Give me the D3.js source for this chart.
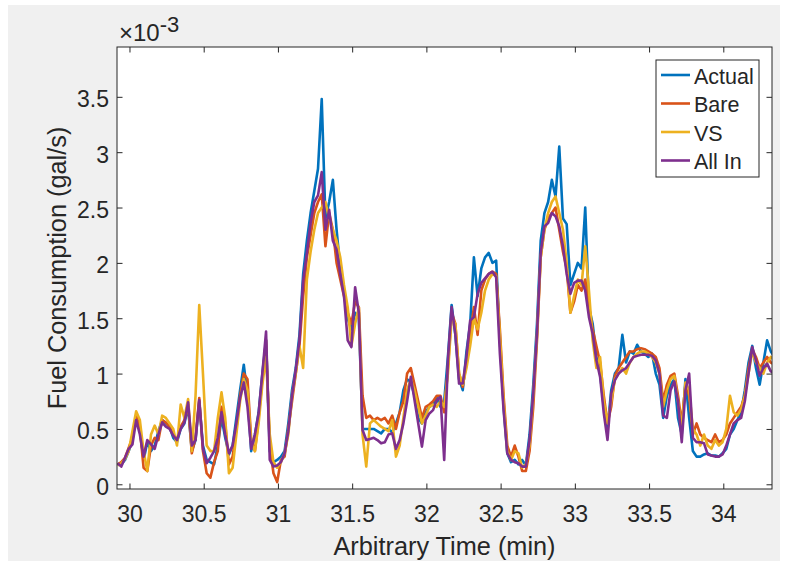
<!DOCTYPE html>
<html>
<head>
<meta charset="utf-8">
<script src="https://cdn.jsdelivr.net/npm/d3@7/dist/d3.min.js"></script>
<style>
body { margin: 0; background: #ffffff; }
text { font-family: "Liberation Sans", Arial, Helvetica, sans-serif; fill: #262626; }
</style>
</head>
<body>
<svg id="chart" width="786" height="561"></svg>
<script>
// samples every 0.025 min starting at 29.92; values are gal/s x 1e-3
var startTime = 29.92;
var sampleStep = 0.025;
var actual = [
	.18,.18,.22,.30,.40,.62,.50,.22,.38,.30,
	.35,.48,.58,.55,.52,.42,.38,.50,.55,.70,
	.30,.40,.75,.35,.22,.20,.18,.35,.60,.42,
	.27,.35,.60,.85,1.08,.80,.30,.45,.65,1.00,
	1.30,.30,.20,.22,.25,.30,.55,.85,1.05,1.35,
	1.90,2.20,2.45,2.65,2.85,3.48,2.40,2.55,2.75,2.30,
	1.95,1.75,1.50,1.40,1.55,1.50,.50,.50,.50,.50,
	.48,.46,.50,.50,.47,.55,.65,.85,.95,.92,
	.80,.60,.55,.65,.70,.72,.78,.70,.75,1.15,
	1.62,1.35,.95,.85,1.20,1.45,2.05,1.70,1.95,2.05,
	2.09,2.00,2.02,1.30,.70,.28,.20,.22,.18,.22,
	.17,.45,.90,1.45,2.20,2.45,2.55,2.75,2.60,3.05,
	2.40,2.35,1.80,1.90,2.00,1.95,2.50,1.60,1.45,1.15,
	1.00,.70,.50,.85,1.00,1.05,1.35,1.10,1.20,1.18,
	1.26,1.20,1.18,1.15,1.18,1.00,.90,.60,.80,.90,
	.95,.60,.45,.95,.60,.30,.25,.25,.27,.28,
	.26,.26,.25,.28,.32,.45,.50,.58,.65,.85,
	1.10,1.25,1.05,.90,1.10,1.30,1.20,1.15
];
var bare = [
	.18,.20,.24,.33,.42,.62,.50,.15,.12,.35,
	.42,.40,.58,.56,.52,.45,.40,.52,.58,.72,
	.28,.42,.78,.30,.10,.06,.20,.30,.70,.55,
	.18,.25,.50,.80,1.00,.95,.40,.30,.60,.95,
	1.30,.35,.10,.02,.22,.25,.50,.75,1.00,1.25,
	1.70,2.05,2.25,2.45,2.55,2.62,2.15,2.45,2.30,2.00,
	1.85,1.70,1.55,1.45,1.65,1.60,.80,.60,.62,.58,
	.60,.58,.60,.55,.62,.50,.65,.75,1.00,1.05,
	.90,.75,.60,.70,.72,.75,.80,.80,.65,1.05,
	1.55,1.45,1.00,.88,1.10,1.35,1.60,1.35,1.75,1.85,
	1.90,1.92,1.90,1.40,.80,.35,.25,.35,.25,.12,
	.12,.30,.70,1.30,2.05,2.30,2.40,2.45,2.50,2.30,
	2.10,1.95,1.55,1.65,1.80,1.75,1.85,1.60,1.40,1.25,
	1.10,.80,.55,.70,.98,1.05,1.10,1.15,1.20,1.20,
	1.22,1.23,1.22,1.20,1.18,1.15,1.05,.75,.90,.98,
	1.00,.80,.55,.90,.80,.45,.55,.45,.42,.40,
	.38,.45,.38,.40,.45,.55,.60,.65,.70,.80,
	1.05,1.22,1.15,1.05,1.10,1.15,1.10,1.08
];
var vs = [
	.17,.19,.23,.30,.48,.66,.58,.30,.12,.45,
	.53,.45,.62,.60,.55,.50,.35,.72,.60,.77,
	.30,.80,1.62,1.00,.35,.30,.30,.60,.83,.60,
	.10,.15,.45,.75,.95,.85,.38,.30,.55,.90,
	1.15,.45,.20,.15,.20,.28,.45,.80,1.00,1.25,
	1.05,1.85,2.10,2.30,2.45,2.50,2.55,2.40,2.30,2.20,
	2.05,1.80,1.60,1.25,1.45,1.60,.45,.16,.55,.58,
	.55,.52,.50,.48,.58,.25,.35,.60,.85,.95,
	.85,.70,.55,.62,.70,.72,.70,.75,.70,1.00,
	1.50,1.45,1.00,.90,1.05,1.25,1.50,1.40,1.55,1.75,
	1.85,1.90,1.88,1.35,.75,.30,.22,.30,.28,.15,
	.18,.35,.80,1.35,2.05,2.30,2.45,2.55,2.60,2.45,
	2.30,2.00,1.55,1.70,1.85,1.80,2.15,1.75,1.30,1.05,
	1.15,.75,.55,.75,.95,1.00,1.05,1.00,1.10,1.15,
	1.18,1.20,1.20,1.18,1.15,1.10,1.00,.70,.85,.95,
	.98,.75,.50,.92,.85,.50,.45,.35,.45,.35,
	.32,.40,.35,.38,.50,.80,.65,.62,.68,.80,
	1.00,1.20,1.10,1.05,1.00,1.10,1.15,1.12
];
var allIn = [
	.19,.16,.24,.32,.36,.58,.45,.25,.40,.36,
	.32,.45,.56,.52,.50,.44,.40,.50,.56,.74,
	.35,.40,.76,.32,.19,.24,.30,.42,.65,.45,
	.28,.35,.55,.78,.92,.70,.32,.45,.64,1.00,
	1.38,.22,.16,.17,.20,.28,.48,.80,1.03,1.30,
	1.84,2.09,2.36,2.55,2.61,2.82,2.30,2.48,2.20,2.12,
	1.90,1.70,1.30,1.24,1.78,1.55,.49,.40,.41,.42,
	.40,.37,.38,.45,.46,.32,.40,.55,.75,.97,
	.76,.55,.34,.58,.64,.67,.76,.79,.22,1.12,
	1.60,1.36,.91,.91,1.15,1.48,1.51,1.72,1.82,1.86,
	1.90,1.92,1.87,1.18,.67,.28,.22,.20,.19,.16,
	.16,.40,.82,1.36,2.09,2.33,2.36,2.45,2.42,2.33,
	2.15,1.90,1.72,1.82,1.84,1.84,1.75,1.51,1.36,1.12,
	.97,.64,.40,.82,.94,1.00,1.03,1.05,1.10,1.15,
	1.16,1.17,1.17,1.17,1.16,1.12,1.00,.62,.60,.85,
	.93,.75,.38,.85,1.00,.42,.38,.38,.37,.27,
	.26,.25,.25,.27,.35,.45,.55,.58,.60,.75,
	1.00,1.24,1.12,.98,1.05,1.09,1.02,1.00
];
var seriesNames = ["Actual", "Bare", "VS", "All In"];
var seriesColors = ["#0072bd", "#d95319", "#edb120", "#7e2f8e"];
var xTicks = [30, 30.5, 31, 31.5, 32, 32.5, 33, 33.5, 34];
var yTicks = [0, 0.5, 1, 1.5, 2, 2.5, 3, 3.5];

var svg = d3.select("#chart");
var plotLeft = 117, plotRight = 772, plotTop = 47, plotBottom = 489;
var axisColor = "#262626";

svg.append("rect").attr("x", 8).attr("y", 5).attr("width", 772).attr("height", 556).attr("fill", "#f0f0f0");
svg.append("rect").attr("x", plotLeft).attr("y", plotTop).attr("width", plotRight - plotLeft).attr("height", plotBottom - plotTop).attr("fill", "#ffffff");

var x = d3.scaleLinear().domain([29.916, 34.328]).range([plotLeft, plotRight]);
var y = d3.scaleLinear().domain([-0.0425, 3.95]).range([plotBottom, plotTop]);

var series = [actual, bare, vs, allIn].map(function (vals, k) {
	return {
		name: seriesNames[k],
		color: seriesColors[k],
		points: vals.map(function (v, i) { return [startTime + i * sampleStep, v]; })
	};
});

svg.append("clipPath").attr("id", "plotClip").append("rect").attr("x", plotLeft).attr("y", plotTop).attr("width", plotRight - plotLeft).attr("height", plotBottom - plotTop);

var line = d3.line().x(function (d) { return x(d[0]); }).y(function (d) { return y(d[1]); });
svg.append("g").attr("clip-path", "url(#plotClip)").selectAll("path").data(series).enter().append("path")
	.attr("d", function (d) { return line(d.points); })
	.attr("fill", "none").attr("stroke", function (d) { return d.color; }).attr("stroke-width", 2.6).attr("stroke-linejoin", "round");

// axes with inward ticks, MATLAB style
var tickLen = 5.5;
var gBottom = svg.append("g").attr("transform", "translate(0," + plotBottom + ")").call(d3.axisBottom(x).tickValues(xTicks).tickSizeInner(-tickLen).tickSizeOuter(0).tickPadding(16.5).tickFormat(d3.format("")));
var gTop = svg.append("g").attr("transform", "translate(0," + plotTop + ")").call(d3.axisTop(x).tickValues(xTicks).tickSizeInner(-tickLen).tickSizeOuter(0).tickFormat(""));
var gLeft = svg.append("g").attr("transform", "translate(" + plotLeft + ",0)").call(d3.axisLeft(y).tickValues(yTicks).tickSizeInner(-tickLen).tickSizeOuter(0).tickPadding(8).tickFormat(d3.format("")));
var gRight = svg.append("g").attr("transform", "translate(" + plotRight + ",0)").call(d3.axisRight(y).tickValues(yTicks).tickSizeInner(-tickLen).tickSizeOuter(0).tickFormat(""));
[gBottom, gTop, gLeft, gRight].forEach(function (g) {
	g.select(".domain").remove();
	g.selectAll(".tick line").attr("stroke", axisColor).attr("stroke-width", 1);
	g.selectAll(".tick text").attr("fill", axisColor).attr("font-size", 23).attr("font-family", null);
});
gBottom.selectAll(".tick text").attr("dy", "0.71em");
gLeft.selectAll(".tick text").attr("dy", "0.43em");

svg.append("rect").attr("x", plotLeft).attr("y", plotTop).attr("width", plotRight - plotLeft).attr("height", plotBottom - plotTop)
	.attr("fill", "none").attr("stroke", axisColor).attr("stroke-width", 1);

// exponent label
var expLabel = svg.append("text").attr("x", 119).attr("y", 40.5).attr("font-size", 24);
expLabel.append("tspan").text("\u00d710");
expLabel.append("tspan").attr("dy", -9).attr("font-size", 22).text("-3");

svg.append("text").attr("x", (plotLeft + plotRight) / 2).attr("y", 555).attr("text-anchor", "middle").attr("font-size", 25.3).text("Arbitrary Time (min)");
svg.append("text").attr("transform", "translate(66," + (plotTop + plotBottom) / 2 + ") rotate(-90)").attr("text-anchor", "middle").attr("font-size", 25.3).text("Fuel Consumption (gal/s)");

// legend
var legend = svg.append("g");
legend.append("rect").attr("x", 656).attr("y", 60).attr("width", 103).attr("height", 117).attr("fill", "#ffffff").attr("stroke", axisColor).attr("stroke-width", 1);
var items = legend.selectAll("g.item").data(series).enter().append("g").attr("class", "item")
	.attr("transform", function (d, i) { return "translate(0," + (75 + i * 28.5) + ")"; });
items.append("line").attr("x1", 661).attr("x2", 690).attr("y1", 0).attr("y2", 0).attr("stroke", function (d) { return d.color; }).attr("stroke-width", 2.6);
items.append("text").attr("x", 694).attr("y", 8.5).attr("font-size", 21.5).text(function (d) { return d.name; });
</script>
</body>
</html>
